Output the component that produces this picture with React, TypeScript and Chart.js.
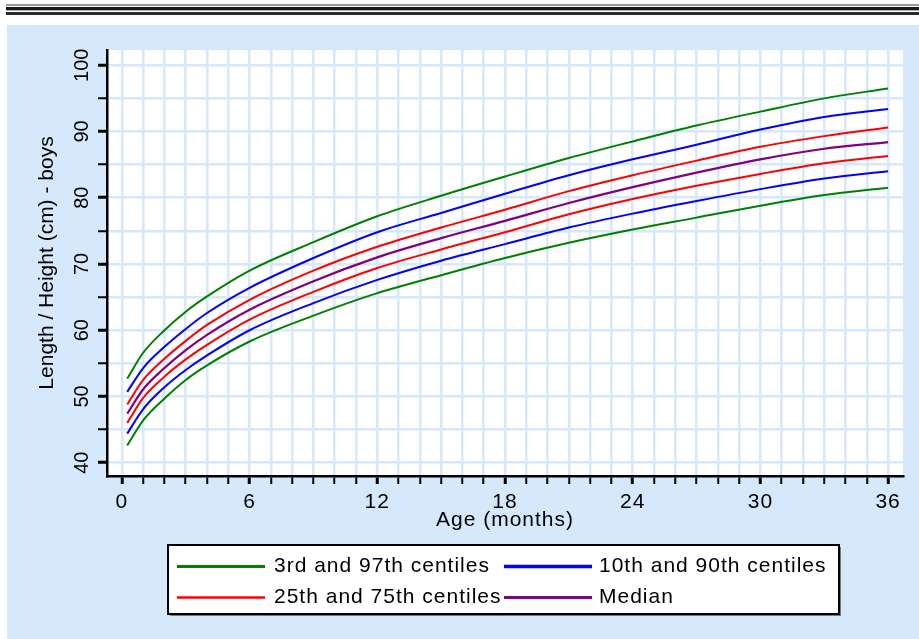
import React, { useEffect, useRef } from 'react';
import { Chart, registerables } from 'chart.js';

Chart.register(...registerables);

// ---- Data ----
const ageMonths = [0.25, 1, 2, 3, 4, 6, 9, 12, 15, 18, 21, 24, 27, 30, 33, 36];
const p97 = [52.7, 56.6, 60.0, 62.8, 65.1, 69.0, 73.3, 77.2, 80.3, 83.2, 86.0, 88.5, 90.9, 93.0, 95.0, 96.5];
const p90 = [50.7, 54.3, 57.5, 60.2, 62.6, 66.4, 70.9, 74.8, 77.7, 80.6, 83.4, 85.8, 88.0, 90.3, 92.2, 93.4];
const p75 = [48.8, 52.5, 55.7, 58.4, 60.8, 64.6, 69.0, 72.6, 75.5, 78.2, 81.0, 83.4, 85.6, 87.7, 89.3, 90.6];
const p50 = [47.4, 51.1, 54.3, 57.0, 59.3, 63.1, 67.4, 71.0, 73.9, 76.5, 79.2, 81.6, 83.8, 85.8, 87.4, 88.4];
const p25 = [46.0, 49.8, 53.0, 55.6, 57.8, 61.6, 65.8, 69.4, 72.2, 74.8, 77.5, 79.8, 81.8, 83.6, 85.2, 86.3];
const p10 = [44.4, 48.1, 51.4, 54.0, 56.2, 60.0, 64.1, 67.6, 70.5, 73.0, 75.5, 77.6, 79.5, 81.3, 82.9, 84.0];
const p3 = [42.6, 46.4, 49.7, 52.5, 54.7, 58.3, 62.2, 65.6, 68.3, 70.9, 73.2, 75.2, 77.0, 78.8, 80.4, 81.5];

const xTickLabels = [0, 6, 12, 18, 24, 30, 36];
const yTickLabels = [40, 50, 60, 70, 80, 90, 100];

const legendLabels = ['3rd and 97th centiles', '10th and 90th centiles', '25th and 75th centiles', 'Median'];
const legendColors = ['#008000', '#0000FF', '#FF0000', '#800080'];
const legendLineWidths = [3, 3.5, 2.5, 3];

const xTitle = 'Age (months)';
const yTitle = 'Length / Height (cm) - boys';

const BG = '#D5E8FC';
const FONT = "'Liberation Sans', Arial, sans-serif";

const toPoints = (vals: number[]) => ageMonths.map((m, i) => ({ x: m, y: vals[i] }));

const bgPlugin = {
  id: 'bgPlugin',
  beforeDraw(chart: any) {
    const { ctx, chartArea: a } = chart;
    ctx.save();
    ctx.fillStyle = BG;
    ctx.fillRect(0, 0, chart.width, chart.height);
    ctx.fillStyle = '#ffffff';
    ctx.fillRect(a.left, a.top, a.right - a.left, a.bottom - a.top);
    ctx.restore();
  },
};

const legendPlugin = {
  id: 'centileLegend',
  afterDraw(chart: any) {
    const ctx = chart.ctx as any;
    const a = chart.chartArea;
    const bx = a.left + 61;
    const by = a.bottom + 69;
    const bw = 671;
    const bh = 69;
    ctx.save();
    ctx.fillStyle = '#7a7a7a';
    ctx.fillRect(bx + 2, by + 2, bw, bh);
    ctx.fillStyle = '#ffffff';
    ctx.fillRect(bx, by, bw, bh);
    ctx.strokeStyle = '#000';
    ctx.lineWidth = 2;
    ctx.strokeRect(bx, by, bw, bh);

    ctx.font = `21px ${FONT}`;
    ctx.letterSpacing = '1px';
    ctx.textBaseline = 'middle';
    ctx.textAlign = 'left';
    const colLineX = [bx + 9, bx + 336];
    const lineLen = 88;
    const textX = [bx + 106, bx + 431];
    const rowY = [by + 21, by + 52];
    legendLabels.forEach((label, i) => {
      const col = i % 2;
      const row = Math.floor(i / 2);
      const y = rowY[row];
      ctx.beginPath();
      ctx.strokeStyle = legendColors[i];
      ctx.lineWidth = legendLineWidths[i];
      ctx.moveTo(colLineX[col], y + 0.5);
      ctx.lineTo(colLineX[col] + lineLen, y + 0.5);
      ctx.stroke();
      ctx.fillStyle = '#000';
      ctx.fillText(label, textX[col], y);
    });
    ctx.restore();
  },
};

export default function App() {
  const canvasRef = useRef<HTMLCanvasElement | null>(null);

  useEffect(() => {
    const canvas = canvasRef.current;
    if (!canvas) return;

    const ds = (label: string, vals: number[], color: string, width = 2) => ({
      label,
      data: toPoints(vals),
      borderColor: color,
      backgroundColor: color,
      borderWidth: width,
      pointRadius: 0,
      fill: false,
      cubicInterpolationMode: 'monotone' as const,
    });

    const chart = new Chart(canvas, {
      type: 'line',
      data: {
        datasets: [
          ds('97th centile', p97, legendColors[0]),
          ds('90th centile', p90, legendColors[1]),
          ds('75th centile', p75, legendColors[2]),
          ds('Median', p50, legendColors[3], 2.2),
          ds('25th centile', p25, legendColors[2]),
          ds('10th centile', p10, legendColors[1]),
          ds('3rd centile', p3, legendColors[0]),
        ],
      },
      options: {
        animation: false,
        responsive: false,
        devicePixelRatio: 1,
        layout: { padding: { left: 0, top: 25, right: 16, bottom: 106 } },
        plugins: {
          legend: { display: false },
          tooltip: { enabled: false },
        },
        scales: {
          x: {
            type: 'linear',
            min: -0.7,
            max: 36.7,
            afterFit: (s: any) => {
              s.height = 57;
            },
            ticks: {
              stepSize: 1,
              autoSkip: false,
              includeBounds: false,
              maxRotation: 0,
              minRotation: 0,
              padding: 6,
              color: '#000',
              font: { family: FONT, size: 21 },
              callback: (v: any) => (xTickLabels.includes(Number(v)) ? String(v) : ''),
            },
            grid: {
              color: BG,
              lineWidth: 2.5,
              tickColor: '#000',
              tickLength: 8,
              tickWidth: (c: any) => (c.tick && xTickLabels.includes(c.tick.value) ? 3 : 2),
            },
            border: { display: true, color: '#000', width: 2.5 },
            title: {
              display: true,
              text: xTitle,
              color: '#000',
              font: { family: FONT, size: 21 },
              padding: 0,
            },
          },
          y: {
            type: 'linear',
            min: 38,
            max: 102.3,
            afterFit: (s: any) => {
              s.width = 100;
            },
            ticks: {
              stepSize: 5,
              autoSkip: false,
              includeBounds: false,
              minRotation: 90,
              maxRotation: 90,
              crossAlign: 'center',
              padding: -1,
              color: '#000',
              font: { family: FONT, size: 20 },
              callback: (v: any) => (yTickLabels.includes(Number(v)) ? String(v) : ''),
            },
            grid: {
              color: BG,
              lineWidth: 2.5,
              tickColor: '#000',
              tickLength: 9,
              tickWidth: (c: any) => (c.tick && yTickLabels.includes(c.tick.value) ? 3 : 2),
            },
            border: { display: true, color: '#000', width: 2.5 },
            title: {
              display: true,
              text: yTitle,
              color: '#000',
              font: { family: FONT, size: 21 },
              padding: { top: 28, bottom: 0 },
            },
          },
        },
      } as any,
      plugins: [bgPlugin, legendPlugin],
    });

    // Horizontal texts in the reference are slightly wider: add letter spacing to x-axis texts.
    const xs: any = chart.scales.x;
    const c: any = chart.ctx;
    const wrap = (fn: any) =>
      function (this: any, ...args: any[]) {
        c.save();
        c.letterSpacing = '1px';
        try {
          return fn.apply(this, args);
        } finally {
          c.restore();
        }
      };
    xs.drawLabels = wrap(xs.drawLabels);
    xs.drawTitle = wrap(xs.drawTitle);
    chart.draw();

    return () => {
      chart.destroy();
    };
  }, []);

  return (
    <div
      style={{
        position: 'fixed',
        left: 0,
        top: 0,
        width: 919,
        height: 639,
        background: '#ffffff',
        overflow: 'hidden',
      }}
    >
      <div style={{ position: 'absolute', left: 6, right: 0, top: 4, height: 2, background: '#9a9a9a' }} />
      <div style={{ position: 'absolute', left: 6, right: 0, top: 7, height: 3, background: '#1a1a1a' }} />
      <div style={{ position: 'absolute', left: 6, right: 0, top: 10, height: 1, background: '#b0b0b0' }} />
      <div style={{ position: 'absolute', left: 6, right: 0, top: 12, height: 3, background: '#2a2a2a' }} />
      <canvas
        ref={canvasRef}
        width={912}
        height={614}
        style={{ position: 'absolute', left: 7, top: 25, width: 912, height: 614 }}
      />
    </div>
  );
}
